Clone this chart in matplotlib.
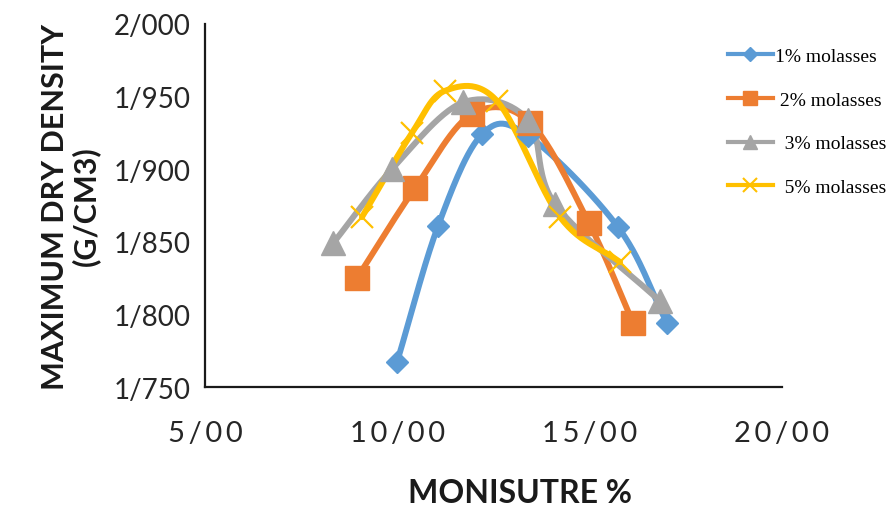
import matplotlib
matplotlib.use("Agg")
import matplotlib.pyplot as plt
from matplotlib.lines import Line2D
import numpy as np

# moisture (%) vs max dry density (g/cm3) for each molasses dosage
moist_1 = [9.99, 11.06, 12.20, 13.40, 15.74, 17.01]
dens_1 = [1.767, 1.861, 1.924, 1.923, 1.860, 1.794]
moist_2 = [8.95, 10.46, 11.94, 13.45, 14.98, 16.13]
dens_2 = [1.825, 1.887, 1.938, 1.932, 1.863, 1.794]
moist_3 = [8.33, 9.86, 11.71, 13.40, 14.10, 16.83]
dens_3 = [1.849, 1.900, 1.946, 1.934, 1.876, 1.809]
moist_5 = [9.08, 10.38, 11.24, 12.59, 14.23, 15.79]
dens_5 = [1.867, 1.925, 1.954, 1.947, 1.867, 1.836]

labels = ["1% molasses", " 2% molasses", "  3% molasses", "  5% molasses"]
colors = ["#5B9BD5", "#ED7D31", "#A5A5A5", "#FFC000"]
markers = ["D", "s", "^", "x"]
msizes = [11, 17, 17, 16]
x_ticks = [5, 10, 15, 20]
y_ticks = [1.75, 1.80, 1.85, 1.90, 1.95, 2.00]


def smooth(x, y, n=30):
    # catmull-rom through the points, like excel's smoothed lines
    x = np.asarray(x, float)
    y = np.asarray(y, float)
    px = np.concatenate([[2 * x[0] - x[1]], x, [2 * x[-1] - x[-2]]])
    py = np.concatenate([[2 * y[0] - y[1]], y, [2 * y[-1] - y[-2]]])
    xs, ys = [], []
    t = np.linspace(0, 1, n)
    for i in range(1, len(px) - 2):
        for p, out in ((px, xs), (py, ys)):
            p0, p1, p2, p3 = p[i - 1], p[i], p[i + 1], p[i + 2]
            out.extend(0.5 * ((2 * p1) + (-p0 + p2) * t
                              + (2 * p0 - 5 * p1 + 4 * p2 - p3) * t ** 2
                              + (-p0 + 3 * p1 - 3 * p2 + p3) * t ** 3))
    return xs, ys


fig = plt.figure(figsize=(8.96, 5.10), dpi=100)
ax = fig.add_axes([0.2288, 0.2392, 0.6440, 0.7118])

series = [(moist_1, dens_1), (moist_2, dens_2), (moist_3, dens_3), (moist_5, dens_5)]
for (mx, dy), c, m, ms in zip(series, colors, markers, msizes):
    sx, sy = smooth(mx, dy)
    ax.plot(sx, sy, color=c, lw=4.3, solid_capstyle="round", zorder=2)
    if m == "x":
        ax.plot(mx, dy, ls="none", marker=m, ms=ms, mew=1.6, color=c, zorder=3)
    else:
        ax.plot(mx, dy, ls="none", marker=m, ms=ms, color=c, mec=c, zorder=3)

ax.set_xlim(5, 20)
ax.set_ylim(1.75, 2.0)
ax.set_xticks(x_ticks)
ax.set_yticks(y_ticks)
ax.set_xticklabels(["\u2009".join(f"{v:.2f}".replace(".", "/")) for v in x_ticks],
                   family="Lato", fontsize=21, color="#262626")
ax.set_yticklabels([f"{v:.3f}".replace(".", "/") for v in y_ticks],
                   family="Lato", fontsize=20, color="#262626")
ax.tick_params(axis="y", length=0, pad=10)
ax.tick_params(axis="x", length=0, pad=24)
for s in ["top", "right"]:
    ax.spines[s].set_visible(False)
for s in ["left", "bottom"]:
    ax.spines[s].set_linewidth(1.6)
    ax.spines[s].set_color("#1a1a1a")

ax.set_xlabel("MONISUTRE %", family="Lato", fontweight="bold", fontsize=23,
              color="#1a1a1a")
ax.xaxis.set_label_coords(0.546, -0.25)
ax.set_ylabel("MAXIMUM DRY DENSITY\n(G/CM3)", family="Lato", fontweight="bold",
              fontsize=22, color="#1a1a1a", labelpad=10, linespacing=1.1)

handles = [
    Line2D([], [], color=colors[0], lw=3, marker="D", ms=7),
    Line2D([], [], color=colors[1], lw=3, marker="s", ms=10),
    Line2D([], [], color=colors[2], lw=3, marker="^", ms=10),
    Line2D([], [], color=colors[3], lw=3, marker="x", ms=10, mew=1.5),
]
fig.legend(handles, labels, loc="upper left", bbox_to_anchor=(0.793, 0.94),
           frameon=False, prop={"family": "Liberation Serif", "size": 14},
           handlelength=2.3, handletextpad=0.1, labelspacing=1.35)

fig.savefig("out.png", dpi=100)
